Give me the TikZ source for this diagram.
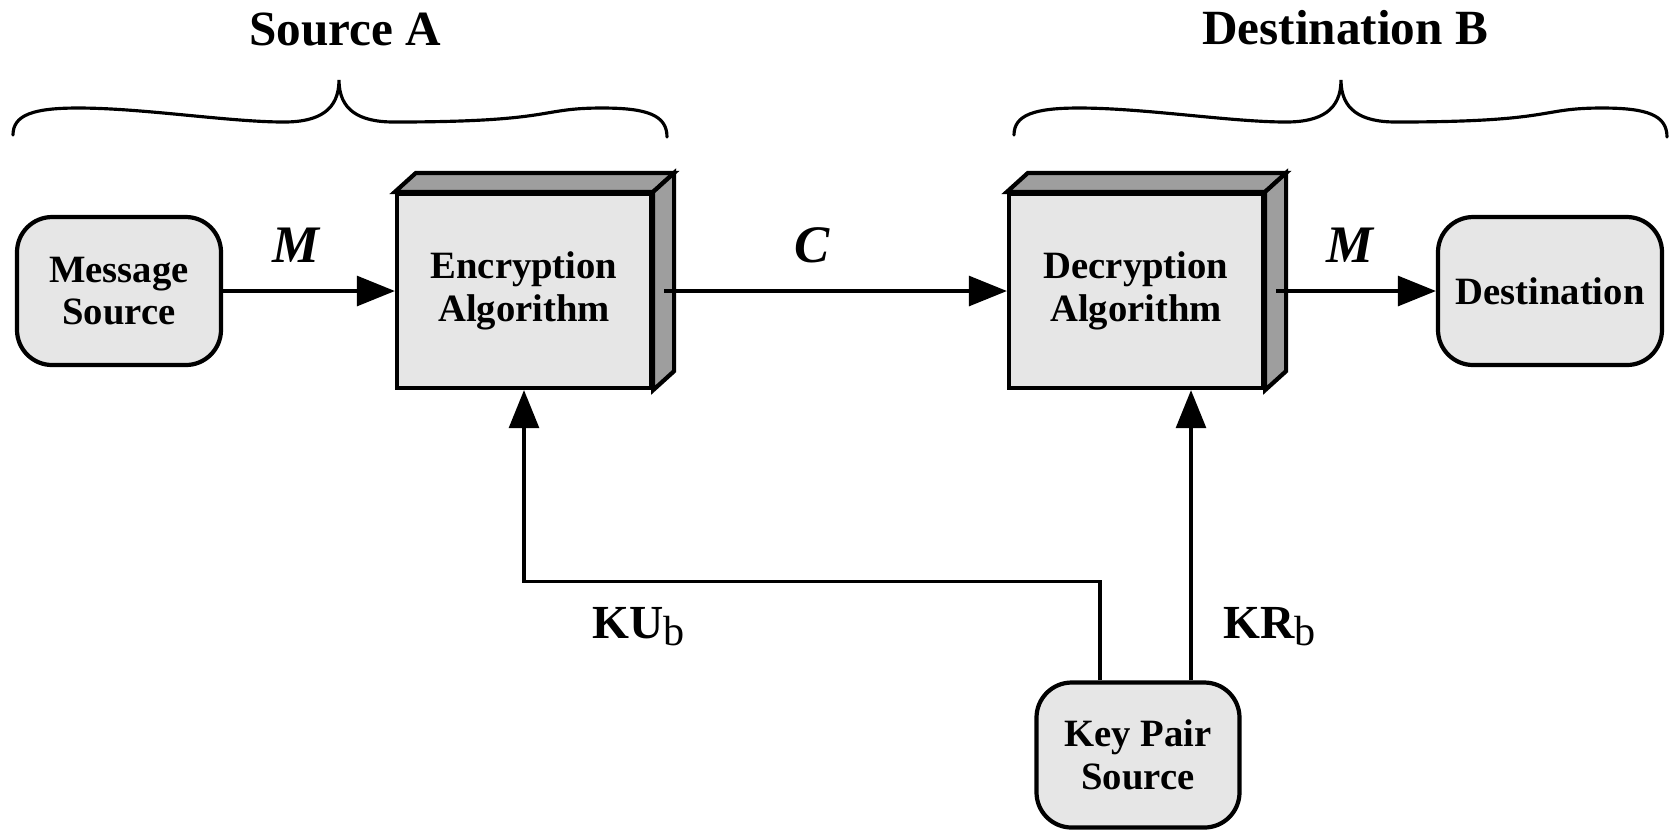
\documentclass[tikz,border=0pt]{standalone}
\usepackage{fontspec}
\setmainfont{Liberation Serif}
\usetikzlibrary{calc, arrows.meta}

\definecolor{boxfill}{RGB}{230,230,230}
\definecolor{sidefill}{RGB}{158,158,158}

\newcommand{\keysub}[1]{\raisebox{-2pt}{\fontsize{12}{12}\selectfont\mdseries #1}}

\begin{document}
\begin{tikzpicture}[
    x=0.1mm, y=-0.1mm,
    rbox/.style={draw, line width=1.2pt, fill=boxfill, rounded corners=10pt, align=center,
        font=\fontsize{11}{12.2}\selectfont\bfseries, inner sep=0pt},
    algbox/.style={draw, line width=1.2pt, fill=boxfill, align=center,
        minimum width=25.4mm, minimum height=19.4mm,
        font=\fontsize{11}{12.2}\selectfont\bfseries, inner sep=0pt},
    face/.style={draw, line width=1.2pt, fill=sidefill, line join=miter},
    flow/.style={line width=0.9pt, -{Triangle[length=10.8pt, width=8.5pt]}},
    msglabel/.style={font=\fontsize{15}{15}\selectfont\bfseries\itshape, inner sep=0pt},
    keylabel/.style={font=\fontsize{13.5}{14}\selectfont\bfseries, inner sep=0pt},
    title/.style={font=\fontsize{14}{14}\selectfont\bfseries, inner sep=0pt},
    brace/.style={line width=0.9pt, line cap=round}
]
    \useasboundingbox (0,0) rectangle (1675,832);

    % Titres et accolades
    \node[title] (srcA) at (345,29) {Source A};
    \node[title] (dstB) at (1345,28) {Destination B};
    \foreach \xl/\xm/\xr in {13/339/667, 1014/1341/1667} {
        \draw[brace] (\xl,135) .. controls (\xl,115) and (\xl+20,108) .. (\xl+65,108)
            .. controls (\xl+130,108) and (\xm-110,122) .. (\xm-55,122)
            .. controls (\xm-20,122) and (\xm,110) .. (\xm,80)
            .. controls (\xm,110) and (\xm+20,122) .. (\xm+55,122)
            .. controls (\xr-110,122) and (\xr-130,108) .. (\xr-65,108)
            .. controls (\xr-20,108) and (\xr,115) .. (\xr,137);
    }

    % Boites
    \node[rbox, minimum width=20.4mm, minimum height=14.8mm] (msg) at (119,291) {Message\\Source};
    \node[algbox] (enc) at (524,291) {Encryption\\Algorithm};
    \node[algbox] (dec) at (1136,291) {Decryption\\Algorithm};
    \node[rbox, minimum width=22.4mm, minimum height=14.8mm] (dst) at (1550,291) {Destination};
    \node[rbox, minimum width=20.3mm, minimum height=14.5mm] (keys) at (1138,755) {Key Pair\\Source};

    % Faces du dessus et de cote
    \foreach \b in {enc, dec} {
        \draw[face] (\b.north west) -- ++(21,-19) -- ([shift={(21,-19)}]\b.north east) -- (\b.north east) -- cycle;
        \draw[face] (\b.north east) -- ++(21,-19) -- ([shift={(21,-19)}]\b.south east) -- (\b.south east) -- cycle;
    }

    % Fleches du message
    \draw[flow] (msg.east) -- (enc.west);
    \draw[flow] ([xshift=1.1mm]enc.east) -- (dec.west);
    \draw[flow] ([xshift=1.1mm]dec.east) -- (dst.west);
    \node[msglabel, anchor=base] (m1) at (296,262) {M};
    \node[msglabel, anchor=base] (c) at (812,262) {C};
    \node[msglabel, anchor=base] (m2) at (1350,262) {M};

    % Cles
    \coordinate (ku) at ($(keys.north)+(-38,0)$);
    \coordinate (kr) at ($(keys.north)+(53,0)$);
    \draw[flow] (ku) -- ++(0,-99) -| (enc.south);
    \draw[flow] (kr) -- (kr |- dec.south);
    \node[keylabel, anchor=base west] (kub) at (592,638) {KU\keysub{b}};
    \node[keylabel, anchor=base west] (krb) at (1223,638) {KR\keysub{b}};

\end{tikzpicture}
\end{document}
